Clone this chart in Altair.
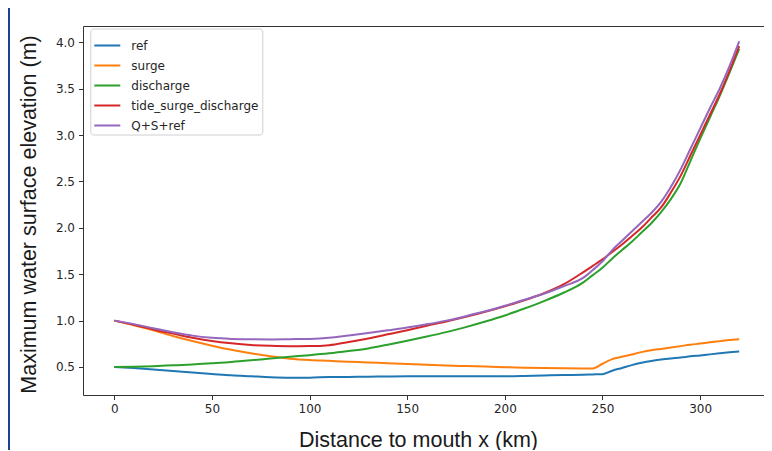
import altair as alt
import pandas as pd

km = [0, 10, 20, 30, 40, 50, 60, 70, 80, 90, 100, 110, 120, 130, 140, 150, 160, 170, 180, 190,
      200, 210, 220, 230, 240, 245, 250, 255, 260, 265, 270, 275, 280, 285, 290, 295, 300, 305,
      310, 315, 320]

ref = [0.50, 0.488, 0.474, 0.458, 0.44, 0.425, 0.41, 0.40, 0.39, 0.385, 0.385, 0.392, 0.393,
       0.395, 0.398, 0.40, 0.40, 0.40, 0.40, 0.40, 0.40, 0.403, 0.408, 0.413, 0.417, 0.42, 0.423,
       0.46, 0.49, 0.52, 0.545, 0.565, 0.58, 0.592, 0.602, 0.615, 0.625, 0.636, 0.647, 0.658, 0.668]

surge = [1.00, 0.95, 0.895, 0.835, 0.78, 0.73, 0.685, 0.648, 0.615, 0.59, 0.575, 0.566, 0.557,
         0.549, 0.54, 0.532, 0.524, 0.516, 0.51, 0.504, 0.498, 0.493, 0.489, 0.486, 0.485, 0.485,
         0.535, 0.585, 0.61, 0.635, 0.66, 0.68, 0.695, 0.71, 0.725, 0.74, 0.752, 0.766, 0.778,
         0.79, 0.80]

discharge = [0.50, 0.503, 0.509, 0.518, 0.527, 0.54, 0.554, 0.572, 0.592, 0.61, 0.627, 0.647,
             0.672, 0.70, 0.74, 0.783, 0.828, 0.876, 0.93, 0.99, 1.055, 1.13, 1.21, 1.30, 1.41,
             1.49, 1.57, 1.67, 1.76, 1.85, 1.95, 2.05, 2.17, 2.31, 2.48, 2.72, 2.96, 3.19, 3.42,
             3.67, 3.93]

tide_surge_discharge = [1.00, 0.955, 0.905, 0.86, 0.815, 0.78, 0.755, 0.737, 0.728, 0.724, 0.725,
                        0.735, 0.77, 0.808, 0.852, 0.897, 0.945, 0.99, 1.04, 1.095, 1.155, 1.22,
                        1.295, 1.39, 1.52, 1.59, 1.66, 1.74, 1.82, 1.91, 2.00, 2.11, 2.22, 2.38,
                        2.56, 2.78, 3.00, 3.22, 3.44, 3.69, 3.96]

q_s_ref = [1.00, 0.962, 0.918, 0.875, 0.838, 0.815, 0.803, 0.798, 0.797, 0.80, 0.803, 0.815, 0.84,
           0.866, 0.895, 0.925, 0.96, 1.00, 1.048, 1.10, 1.16, 1.225, 1.29, 1.37, 1.46, 1.545,
           1.64, 1.76, 1.86, 1.96, 2.06, 2.16, 2.28, 2.44, 2.63, 2.85, 3.07, 3.29, 3.50, 3.74,
           4.01]

series_names = ["ref", "surge", "discharge", "tide_surge_discharge", "Q+S+ref"]
series_values = [ref, surge, discharge, tide_surge_discharge, q_s_ref]
colors = ["#1f77b4", "#ff7f0e", "#2ca02c", "#d62728", "#9467bd"]

x_ticks = [0, 50, 100, 150, 200, 250, 300]
y_ticks = [0.5, 1.0, 1.5, 2.0, 2.5, 3.0, 3.5, 4.0]

rows = []
for name, vals in zip(series_names, series_values):
    for k, v in zip(km, vals):
        rows.append({"km": k, "value": v, "series": name})
df = pd.DataFrame(rows)

lines = alt.Chart(df).mark_line(strokeWidth=2, interpolate="monotone").encode(
    x=alt.X("km:Q",
            scale=alt.Scale(domain=[-16, 332.7], nice=False, zero=False),
            axis=alt.Axis(values=x_ticks, title="Distance to mouth x (km)",
                          titleX=335, titleY=51, titleAlign="center",
                          titleBaseline="alphabetic", grid=False, domain=False,
                          labelPadding=4, labelFlush=False)),
    y=alt.Y("value:Q",
            scale=alt.Scale(domain=[0.198, 4.176], nice=False, zero=False),
            axis=alt.Axis(values=y_ticks, format=".1f",
                          title="Maximum water surface elevation (m)",
                          titleX=-47.5, titleY=188, titleAlign="center", titleAngle=-90,
                          titleBaseline="alphabetic", grid=False, domain=False,
                          labelPadding=4, labelFlush=False)),
    color=alt.Color("series:N",
                    scale=alt.Scale(domain=series_names, range=colors),
                    legend=alt.Legend(title=None, orient="none", legendX=7.3, legendY=2.5,
                                      symbolType="stroke", symbolSize=676,
                                      symbolStrokeWidth=2, labelFont="DejaVu Sans",
                                      labelFontSize=12, labelColor="#262626",
                                      labelOffset=10, padding=3, rowPadding=-6,
                                      strokeColor="#d0d0d0",
                                      fillColor="rgba(255,255,255,0.8)",
                                      cornerRadius=3)),
    order=alt.Order("km:Q"),
)

frame_line = alt.Chart(pd.DataFrame({"a": [0]})).mark_rule(
    color="#1f3f8f", strokeWidth=2
).encode(
    x=alt.value(-74),
    y=alt.value(-18),
    y2=alt.value(424),
)

chart = alt.layer(frame_line, lines).properties(
    width=681,
    height=369,
    autosize=alt.AutoSizeParams(type="none"),
    padding={"left": 75, "top": 18, "right": 0, "bottom": 55},
).configure_view(
    stroke="#333333", strokeWidth=1
).configure_axis(
    labelFont="DejaVu Sans", labelFontSize=12, labelColor="#262626",
    tickColor="#333333", tickSize=4.5, tickWidth=1,
    titleFont="Liberation Sans", titleFontSize=21.5, titleFontWeight="normal",
    titleColor="#1a1a1a",
)

chart.save("out.html", embed_options={"renderer": "svg", "actions": False})
